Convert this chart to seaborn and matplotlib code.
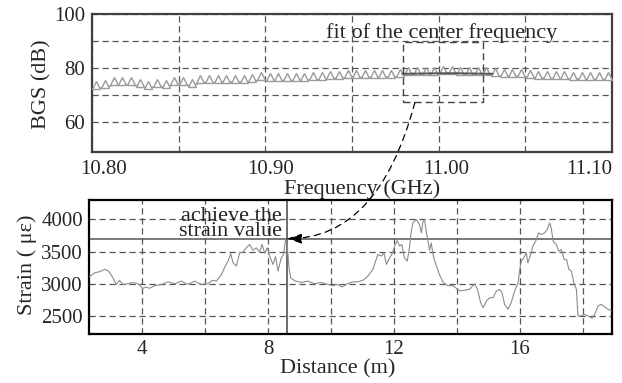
import numpy as np
import pandas as pd
import matplotlib
matplotlib.use("Agg")
import matplotlib.pyplot as plt
import seaborn as sns
from matplotlib.transforms import ScaledTranslation
from matplotlib.patches import Rectangle, ConnectionPatch

# ---------------- data ----------------
# Brillouin gain spectrum samples (GHz, dB)
bgs_freq = [10.8025 + 0.005 * k for k in range(60)]
bgs_db = [72.3, 72.9, 73.8, 73.8, 73.8, 73.2, 72.5, 73.2, 72.9, 74.1,
          74.1, 73.2, 74.7, 74.7, 74.7, 74.7, 74.8, 74.8, 75.0, 75.7,
          75.4, 75.4, 75.4, 75.4, 75.5, 75.7, 75.7, 76.2, 76.2, 76.4,
          76.5, 76.5, 76.6, 76.6, 76.7, 76.8, 77.6, 77.7, 77.8, 77.8,
          77.9, 77.9, 77.8, 77.8, 77.7, 77.6, 77.2, 77.0, 77.0, 76.9,
          76.6, 76.3, 76.2, 76.0, 76.0, 75.9, 75.9, 75.8, 75.8, 75.7]
# Lorentzian fit around the peak
fit_freq = [10.979, 10.990, 11.000, 11.010, 11.020, 11.031]
fit_db = [77.9, 78.0, 78.1, 78.1, 78.0, 77.9]
box_freq = (10.9796, 11.0258)
box_db = (67.3, 89.6)
arrow_start = (10.9863, 67.3)

# strain distribution
distance = [2.32, 2.37, 2.5, 2.65, 2.82, 2.94, 3.08, 3.18, 3.29, 3.40, 3.56, 3.71, 3.87,
            4.03, 4.14, 4.24, 4.40, 4.61, 4.83, 5.04, 5.25, 5.46, 5.67, 5.88, 6.09, 6.25,
            6.36, 6.52, 6.62, 6.73, 6.82, 6.89, 7.0, 7.10, 7.21, 7.31, 7.42, 7.52, 7.63,
            7.74, 7.81, 7.90, 7.98, 8.06, 8.16, 8.24, 8.32, 8.42, 8.49, 8.56, 8.61, 8.67,
            8.72, 8.85, 9.06, 9.27, 9.48, 9.69, 9.90, 10.05, 10.2, 10.36, 10.52, 10.70,
            10.86, 11.02, 11.17, 11.33, 11.49, 11.6, 11.68, 11.76, 11.86, 11.94, 12.02,
            12.10, 12.18, 12.25, 12.33, 12.42, 12.49, 12.55, 12.60, 12.71, 12.81, 12.87,
            12.92, 12.97, 13.03, 13.08, 13.13, 13.18, 13.24, 13.31, 13.37, 13.44, 13.56,
            13.71, 13.87, 13.98, 14.09, 14.25, 14.40, 14.56, 14.65, 14.75, 14.83, 14.94,
            15.04, 15.14, 15.25, 15.35, 15.43, 15.51, 15.62, 15.72, 15.83, 15.94, 15.99,
            16.04, 16.12, 16.20, 16.25, 16.34, 16.41, 16.52, 16.59, 16.68, 16.78, 16.87,
            16.94, 16.99, 17.05, 17.15, 17.23, 17.31, 17.40, 17.48, 17.55, 17.63, 17.71,
            17.79, 17.84, 17.94, 18.05, 18.16, 18.29, 18.37, 18.48, 18.58, 18.69, 18.80,
            18.90]
strain = [3110, 3119, 3170, 3186, 3223, 3197, 3093, 2990, 3052, 2990, 3000, 3020, 3000,
          2929, 2950, 2929, 2970, 2985, 3030, 3000, 3040, 2990, 3040, 2990, 3000, 3055,
          3040, 3140, 3248, 3350, 3465, 3325, 3274, 3480, 3490, 3557, 3609, 3520, 3557,
          3490, 3609, 3475, 3557, 3420, 3300, 3420, 3197, 3400, 3450, 3686, 3610, 3240,
          3095, 3045, 3020, 3040, 3000, 3020, 2990, 2970, 2990, 2950, 3000, 3030,
          3030, 3055, 3120, 3222, 3455, 3430, 3480, 3300, 3400, 3465, 3584,
          3670, 3584, 3610, 3404, 3350, 3557, 3816, 3944, 3996, 3918, 3790,
          3970, 3996, 3790, 3660, 3520, 3635, 3455, 3325, 3248, 3145, 3020,
          2970, 2970, 2930, 2890, 2900, 2915, 3000, 2915, 2706, 2628, 2737,
          2783, 2783, 2887, 2913, 2860, 2680, 2603, 2706, 2887, 3015, 3222,
          3350, 3400, 3480, 3325, 3455, 3584, 3686, 3790, 3764, 3790, 3842,
          3944, 3868, 3660, 3610, 3506, 3530, 3375, 3375, 3222, 3197, 3015,
          2913, 2500, 2500, 2525, 2500, 2464, 2525, 2655, 2680, 2640, 2603,
          2578]
target_distance = 8.6
target_strain = 3700

freq_ticks = [10.80, 10.85, 10.90, 10.95, 11.00, 11.05, 11.10]
freq_labels = ["10.80", "", "10.90", "", "11.00", "", "11.10"]
freq_label_shift_px = [12, 0, 5, 0, 8, 0, -23]
bgs_ticks = [60, 70, 80, 90, 100]
bgs_labels = ["60", "", "80", "", "100"]
dist_ticks = [4, 6, 8, 10, 12, 14, 16, 18]
dist_labels = ["4", "", "8", "", "12", "", "16", ""]
strain_ticks = [2500, 3000, 3500, 4000]
strain_labels = ["2500", "3000", "3500", "4000"]

# ---------------- style ----------------
sns.set_style("white")
plt.rcParams["font.family"] = ["Liberation Serif", "DejaVu Serif"]

GRID = dict(color="#555555", lw=0.9, ls=(0, (5, 3)))
TICKFS = 15
LABFS = 16

fig = plt.figure(figsize=(6.22, 3.83), dpi=100)
W, H = 622, 383
ax1 = fig.add_axes([92 / W, 1 - 152 / H, 520 / W, 138 / H])
ax2 = fig.add_axes([89 / W, 1 - 334 / H, 523 / W, 134 / H])

# ---------------- top panel ----------------
df_bgs = pd.DataFrame({"freq": bgs_freq, "bgs": bgs_db})
sns.lineplot(data=df_bgs, x="freq", y="bgs", ax=ax1, color="#a0a0a0", lw=1.2, zorder=3)
off = ScaledTranslation(0, 3.5 / 100, fig.dpi_scale_trans)
ax1.plot(bgs_freq, bgs_db, ls="none", marker="^", ms=5.6, mfc="white", mec="#9a9a9a",
         mew=1.0, transform=ax1.transData + off, zorder=3)
df_fit = pd.DataFrame({"freq": fit_freq, "bgs": fit_db})
sns.lineplot(data=df_fit, x="freq", y="bgs", ax=ax1, color="#555555", lw=1.4, zorder=4)
ax1.add_patch(Rectangle((box_freq[0], box_db[0]), box_freq[1] - box_freq[0],
                        box_db[1] - box_db[0], fill=False, ec="#444444", lw=1.0,
                        ls=(0, (5, 3)), zorder=4))
ax1.text(11.0017, 93.0, "fit of the center frequency", ha="center", va="center",
         fontsize=LABFS, zorder=5)

ax1.set_xlim(10.80, 11.10)
ax1.set_ylim(49, 100)
ax1.set_xticks(freq_ticks, [""] * len(freq_ticks))
ax1.set_yticks(bgs_ticks, bgs_labels)
for val, lab, dx in zip(freq_ticks, freq_labels, freq_label_shift_px):
    if lab:
        ax1.text(val, 0, lab, ha="center", va="top", fontsize=TICKFS,
                 transform=ax1.get_xaxis_transform()
                 + ScaledTranslation(dx / 100, -7.5 / 100, fig.dpi_scale_trans))
ax1.tick_params(length=0, labelsize=TICKFS)
ax1.tick_params(axis="y", pad=5)
ax1.grid(True, **GRID)
ax1.set_axisbelow(True)
ax1.set_xlabel("Frequency (GHz)", fontsize=LABFS)
ax1.set_ylabel("BGS (dB)", fontsize=LABFS)
ax1.xaxis.set_label_coords(0.519, -0.195)
ax1.yaxis.set_label_coords(-0.078, 0.49)
for s in ax1.spines.values():
    s.set_color("#404040")
    s.set_linewidth(1.6)

# ---------------- bottom panel ----------------
df_s = pd.DataFrame({"distance": distance, "strain": strain})
sns.lineplot(data=df_s, x="distance", y="strain", ax=ax2, color="#8c8c8c", lw=0.8, zorder=3)
ax2.axhline(target_strain, color="#555555", lw=1.1, zorder=2)
ax2.axvline(target_distance, color="#444444", lw=1.1, zorder=2)
ax2.text(8.44, 3738, "achieve the\nstrain value", ha="right", va="baseline",
         fontsize=LABFS, linespacing=0.72, zorder=5)

ax2.set_xlim(2.32, 18.92)
ax2.set_ylim(2220, 4300)
ax2.set_xticks(dist_ticks, dist_labels)
ax2.set_yticks(strain_ticks, strain_labels)
ax2.tick_params(length=0, labelsize=TICKFS)
ax2.tick_params(axis="x", pad=4.5)
ax2.tick_params(axis="y", pad=4.5)
ax2.grid(True, **GRID)
ax2.set_axisbelow(True)
ax2.set_xlabel("Distance (m)", fontsize=LABFS)
ax2.set_ylabel("Strain ( \u03bc\u03b5)", fontsize=LABFS)
ax2.xaxis.set_label_coords(0.476, -0.185)
ax2.yaxis.set_label_coords(-0.1, 0.515)
for s in ax2.spines.values():
    s.set_color("black")
    s.set_linewidth(1.6)

# ---------------- connecting arrow ----------------
con = ConnectionPatch(xyA=arrow_start, xyB=(target_distance, target_strain),
                      coordsA=ax1.transData, coordsB=ax2.transData,
                      arrowstyle="-|>,head_length=0.9,head_width=0.3",
                      connectionstyle="angle3,angleA=75,angleB=0",
                      ls=(0, (5, 4)), lw=0.9, color="black", zorder=10)
fig.add_artist(con)

fig.savefig("out.png", dpi=100)
